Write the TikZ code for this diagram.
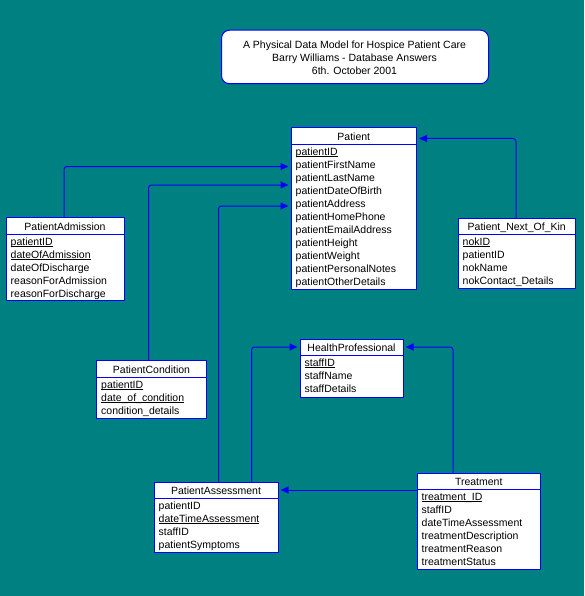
\documentclass[tikz,border=0pt]{standalone}
\usepackage{fontspec}
\setmainfont{Liberation Sans}
\usetikzlibrary{arrows.meta}
\definecolor{bgteal}{RGB}{0,128,128}
\definecolor{lnblue}{RGB}{0,0,255}
\newcommand\keyfld[1]{\setbox0\hbox{#1}\rlap{\rule[-1.6pt]{\wd0}{0.9pt}}\box0}
\newcommand\etable[8]{%
  \node[tbl,minimum width=#4pt,minimum height=#5pt] (#1) at (#2,#3) {};
  \draw[draw=lnblue,line width=1pt] ([yshift=-#6pt]#1.north west) -- ([yshift=-#6pt]#1.north east);
  \node[hdr] (#1-h) at ([yshift={-(#6-4)*1pt}]#1.north) {#7};
  \foreach \t [count=\i from 0] in {#8}
    \node[fld] (#1-\i) at ([xshift=4.5pt,yshift={-(#6+11+13*\i)*1pt}]#1.north west) {\t};
}
\begin{document}
\begin{tikzpicture}[x=1pt,y=-1pt,
  tbl/.style={draw=lnblue,fill=white,line width=1pt,inner sep=0pt,outer sep=0pt,anchor=north west},
  hdr/.style={anchor=base,inner sep=0pt,font=\fontsize{10.5}{12}\selectfont},
  fld/.style={anchor=base west,inner sep=0pt,font=\fontsize{10.5}{12}\selectfont},
  rel/.style={draw=lnblue,line width=1pt,rounded corners=3pt,-{Triangle[length=8pt,width=7pt]},shorten >=2.5pt}]
\fill[bgteal] (0,0) rectangle (584,596);
\useasboundingbox (0,0) rectangle (584,596);

% title
\node[draw=lnblue,fill=white,rounded corners=8pt,line width=1pt,inner sep=0pt,
      minimum width=267pt,minimum height=53.5pt,anchor=north west] (title) at (221,29.7) {};
\node[hdr] (title-1) at (354.5,48.5) {A Physical Data Model for Hospice Patient Care};
\node[hdr] (title-2) at (354.5,62) {Barry Williams - Database Answers};
\node[hdr] (title-3) at (354.5,74.5) {6th. October 2001};

\etable{patient}{291}{128}{125.5}{161}{16.5}{Patient}{\keyfld{patientID},patientFirstName,patientLastName,patientDateOfBirth,patientAddress,patientHomePhone,patientEmailAddress,patientHeight,patientWeight,patientPersonalNotes,patientOtherDetails}
\etable{adm}{6}{217}{118}{83.5}{17}{PatientAdmission}{\keyfld{patientID},\keyfld{dateOfAdmission},dateOfDischarge,reasonForAdmission,reasonForDischarge}
\etable{nok}{458}{218}{117.5}{70.5}{16.5}{Patient\_Next\_Of\_Kin}{\keyfld{nokID},patientID,nokName,nokContact\_Details}
\etable{cond}{96.5}{360}{110}{58}{17}{PatientCondition}{\keyfld{patientID},\keyfld{date\_of\_condition},condition\_details}
\etable{hp}{300}{339}{103}{58}{16}{HealthProfessional}{\keyfld{staffID},staffName,staffDetails}
\etable{pa}{154}{482}{124}{70.5}{16}{PatientAssessment}{patientID,\keyfld{dateTimeAssessment},staffID,patientSymptoms}
\etable{tr}{417}{473}{123.5}{96}{16}{Treatment}{\keyfld{treatment\_ID},staffID,dateTimeAssessment,treatmentDescription,treatmentReason,treatmentStatus}

% relationships
\draw[rel] (adm.north -| 64,0) |- (patient.west |- 0,166.5);
\draw[rel] (cond.north -| 148.5,0) |- (patient.west |- 0,185);
\draw[rel] (pa.north -| 218.5,0) |- (patient.west |- 0,206);
\draw[rel] (nok.north -| 516,0) |- (patient.east |- 0,138.5);
\draw[rel] (pa.north -| 251.5,0) |- (hp.west |- 0,347);
\draw[rel] (tr.north -| 453,0) |- (hp.east |- 0,347);
\draw[rel] (tr.west |- 0,490) -- (pa.east |- 0,490);
\end{tikzpicture}
\end{document}
